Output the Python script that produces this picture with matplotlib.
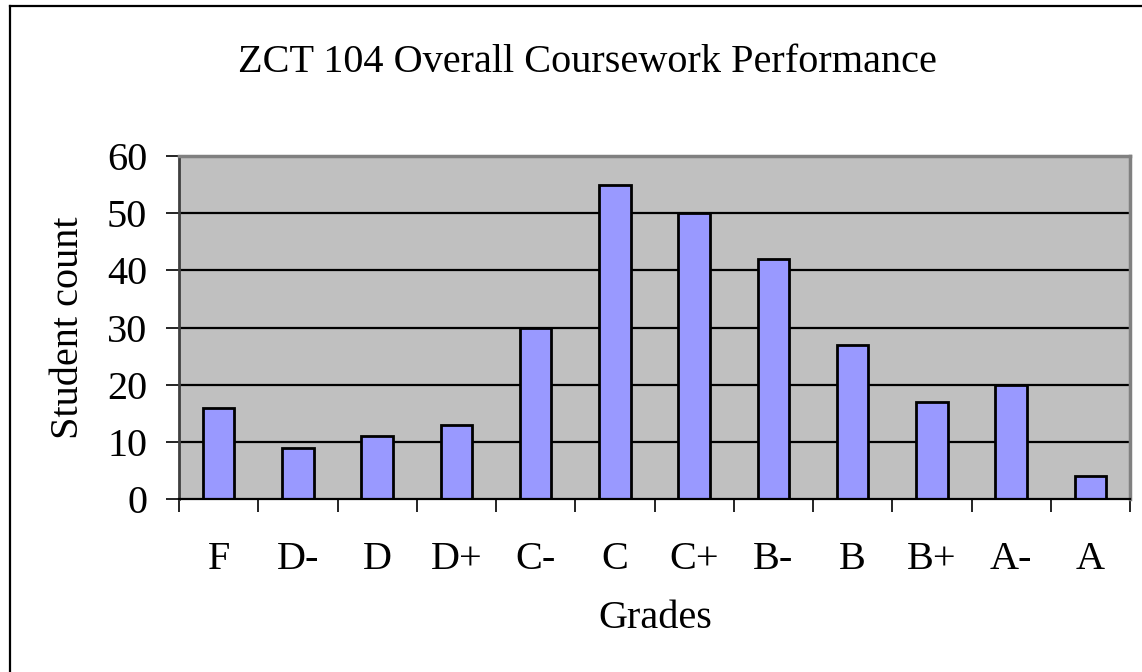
import matplotlib.pyplot as plt
import numpy as np
from matplotlib.lines import Line2D

grades = ["F", "D-", "D", "D+", "C-", "C", "C+", "B-", "B", "B+", "A-", "A"]
counts = [16, 9, 11, 13, 30, 55, 50, 42, 27, 17, 20, 4]
yticks = [0, 10, 20, 30, 40, 50, 60]

FONT = "Liberation Serif"
FS = 29
W, H = 1142, 672

fig = plt.figure(figsize=(W / 100, H / 100), dpi=100)
ax = fig.add_axes([179 / W, 1 - 499 / H, (1130 - 179) / W, (499 - 156) / H])
ax.set_facecolor("#C0C0C0")

x = np.arange(len(grades))
for y in yticks[1:-1]:
    ax.axhline(y, color="black", lw=1.6, zorder=1)
ax.bar(x, counts, width=0.4, color="#9999FF", edgecolor="black", linewidth=2, zorder=2)

ax.set_xlim(-0.5, len(grades) - 0.5)
ax.set_ylim(0, 60)

# major ticks at category boundaries, labels on minor ticks at the centers
ax.set_xticks(np.arange(-0.5, len(grades), 1.0))
ax.set_xticklabels([])
ax.set_xticks(x, minor=True)
ax.set_xticklabels(grades, minor=True, fontfamily=FONT, fontsize=FS)
ax.tick_params(axis="x", which="major", direction="out", length=9.4, width=1.2, color="black")
ax.tick_params(axis="x", which="minor", length=0, pad=30)

ax.set_yticks(yticks)
ax.set_yticklabels([str(v) for v in yticks], fontfamily=FONT, fontsize=FS)
ax.tick_params(axis="y", direction="out", length=9.4, width=1.2, color="black", pad=13.5)

ax.spines["left"].set_color("#404040")
ax.spines["left"].set_linewidth(2)
ax.spines["top"].set_color("#808080")
ax.spines["top"].set_linewidth(2.5)
ax.spines["right"].set_color("#808080")
ax.spines["right"].set_linewidth(2.5)
ax.spines["bottom"].set_color("black")
ax.spines["bottom"].set_linewidth(1.6)

fig.text(587 / W, 1 - 62 / H, "ZCT 104 Overall Coursework Performance",
         ha="center", va="center", fontfamily=FONT, fontsize=FS)
fig.text(655 / W, 1 - 618 / H, "Grades", ha="center", va="center",
         fontfamily=FONT, fontsize=FS)
fig.text(69 / W, 1 - 328 / H, "Student count", ha="center", va="center",
         rotation=90, fontfamily=FONT, fontsize=FS)

# outer chart border: only the left and top edges are in view
fig.add_artist(Line2D([9.5 / W, 9.5 / W], [0, 1 - 5.5 / H], transform=fig.transFigure,
                      color="black", lw=1.6))
fig.add_artist(Line2D([9.5 / W, 1], [1 - 5.5 / H, 1 - 5.5 / H], transform=fig.transFigure,
                      color="black", lw=1.6))

fig.savefig("out.png", dpi=100)
